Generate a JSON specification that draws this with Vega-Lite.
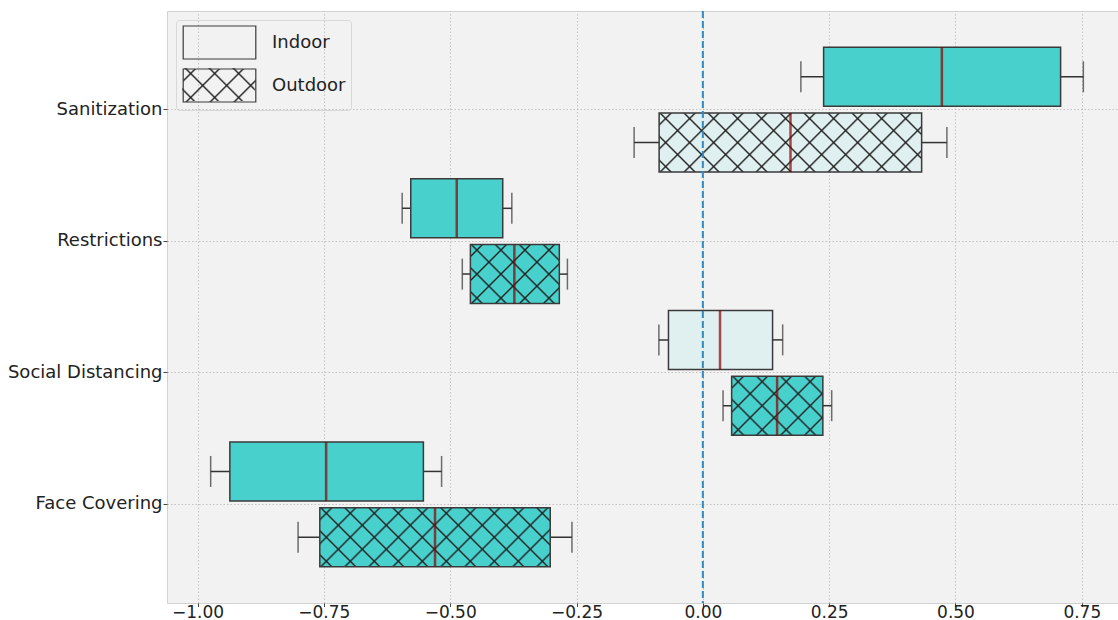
{
  "$schema": "https://vega.github.io/schema/vega-lite/v6.json",
  "width": 960,
  "height": 592,
  "padding": {"left": 5, "top": 10, "right": 0, "bottom": 0},
  "background": "white",
  "config": {
    "view": {"fill": "#f2f2f2", "stroke": "#d2d2d2", "strokeWidth": 1},
    "font": "DejaVu Sans",
    "axisX": {"grid": true, "gridColor": "#b5b5b5", "gridDash": [1.5, 2], "gridWidth": 0.8, "domain": false, "ticks": true, "tickSize": 3.5, "tickColor": "#444", "labelFontSize": 17, "labelColor": "#222", "labelPadding": -2, "labelFont": "DejaVu Sans"},
    "axisY": {"grid": true, "gridColor": "#b5b5b5", "gridDash": [1.5, 2], "gridWidth": 0.8, "domain": false, "ticks": true, "tickSize": 4, "tickColor": "#444", "labelFontSize": 18, "labelColor": "#222", "labelPadding": 1, "minExtent": 162, "maxExtent": 162, "labelFont": "DejaVu Sans"}
  },
  "data": {"values": [
    {"category": "Sanitization", "setting": "Indoor", "low": 0.194, "q1": 0.239, "median": 0.473, "q3": 0.708, "high": 0.753},
    {"category": "Sanitization", "setting": "Outdoor", "low": -0.136, "q1": -0.0865, "median": 0.1735, "q3": 0.433, "high": 0.483},
    {"category": "Restrictions", "setting": "Indoor", "low": -0.595, "q1": -0.578, "median": -0.487, "q3": -0.396, "high": -0.378},
    {"category": "Restrictions", "setting": "Outdoor", "low": -0.476, "q1": -0.46, "median": -0.373, "q3": -0.284, "high": -0.268},
    {"category": "Social Distancing", "setting": "Indoor", "low": -0.087, "q1": -0.068, "median": 0.034, "q3": 0.138, "high": 0.158},
    {"category": "Social Distancing", "setting": "Outdoor", "low": 0.04, "q1": 0.057, "median": 0.147, "q3": 0.2375, "high": 0.255},
    {"category": "Face Covering", "setting": "Indoor", "low": -0.974, "q1": -0.936, "median": -0.7455, "q3": -0.553, "high": -0.517},
    {"category": "Face Covering", "setting": "Outdoor", "low": -0.801, "q1": -0.758, "median": -0.53, "q3": -0.302, "high": -0.259}
  ]},
  "layer": [
    {
      "mark": {"type": "rule", "color": "#333", "strokeWidth": 1.5},
      "encoding": {
        "x": {"field": "low", "type": "quantitative", "title": null, "scale": {"domain": [-1.0604, 0.8394], "nice": false, "zero": false}, "axis": {"values": [-1, -0.75, -0.5, -0.25, 0, 0.25, 0.5, 0.75], "format": ".2f"}},
        "x2": {"field": "q1"},
        "y": {"field": "category", "type": "nominal", "title": null, "sort": ["Sanitization", "Restrictions", "Social Distancing", "Face Covering"], "scale": {"paddingInner": 0, "paddingOuter": 0.25}},
        "yOffset": {"field": "setting", "type": "nominal", "sort": ["Indoor", "Outdoor"], "scale": {"paddingInner": 0.103, "paddingOuter": 0.0513}},
        "strokeDash": {"field": "setting", "type": "nominal", "scale": {"range": [[1, 0], [1, 0]]}, "legend": {
          "title": null, "orient": "none", "legendX": 9, "legendY": 52, "values": ["Outdoor"],
          "symbolType": "M-2.2,-1H2.2V1H-2.2Z", "symbolSize": 1089, "symbolOffset": 21, "labelOffset": 35,
          "labelFontSize": 18, "labelFont": "DejaVu Sans", "labelColor": "#222", "labelOpacity": 0, "rowPadding": 4, "padding": 5,
          "symbolStrokeColor": "transparent", "symbolStrokeWidth": 0,
          "symbolFillColor": {"value": {"gradient": "linear", "x1": 0, "y1": 1, "x2": 3.8355, "y2": -0.7434, "stops": [{"offset":0.0298,"color":"rgba(34,34,34,0)"},{"offset":0.0357,"color":"#222"},{"offset":0.0417,"color":"rgba(34,34,34,0)"},{"offset":0.1012,"color":"rgba(34,34,34,0)"},{"offset":0.1071,"color":"#222"},{"offset":0.1131,"color":"rgba(34,34,34,0)"},{"offset":0.1726,"color":"rgba(34,34,34,0)"},{"offset":0.1786,"color":"#222"},{"offset":0.1845,"color":"rgba(34,34,34,0)"},{"offset":0.244,"color":"rgba(34,34,34,0)"},{"offset":0.25,"color":"#222"},{"offset":0.256,"color":"rgba(34,34,34,0)"},{"offset":0.3155,"color":"rgba(34,34,34,0)"},{"offset":0.3214,"color":"#222"},{"offset":0.3274,"color":"rgba(34,34,34,0)"}]}}
        }}
      }
    },
    {
      "mark": {"type": "rule", "color": "#333", "strokeWidth": 1.5},
      "encoding": {
        "x": {"field": "q3", "type": "quantitative"},
        "x2": {"field": "high"},
        "y": {"field": "category", "type": "nominal", "sort": ["Sanitization", "Restrictions", "Social Distancing", "Face Covering"]},
        "yOffset": {"field": "setting", "type": "nominal", "sort": ["Indoor", "Outdoor"]},
        "strokeWidth": {"field": "setting", "type": "ordinal", "scale": {"domain": {"unionWith": ["Indoor", "Outdoor"]}, "range": [1.5, 1.5]}, "legend": {
          "title": null, "orient": "none", "legendX": 9, "legendY": 52, "values": ["Outdoor"],
          "symbolType": "M-2.2,-1H2.2V1H-2.2Z", "symbolSize": 1089, "symbolOffset": 21, "labelOffset": 35,
          "labelFontSize": 18, "labelFont": "DejaVu Sans", "labelColor": "#222", "labelOpacity": 0, "rowPadding": 4, "padding": 5,
          "symbolStrokeColor": "transparent",
          "symbolFillColor": {"value": {"gradient": "linear", "x1": 0, "y1": 0, "x2": 3.8355, "y2": 1.7434, "stops": [{"offset":0.0298,"color":"rgba(34,34,34,0)"},{"offset":0.0357,"color":"#222"},{"offset":0.0417,"color":"rgba(34,34,34,0)"},{"offset":0.1012,"color":"rgba(34,34,34,0)"},{"offset":0.1071,"color":"#222"},{"offset":0.1131,"color":"rgba(34,34,34,0)"},{"offset":0.1726,"color":"rgba(34,34,34,0)"},{"offset":0.1786,"color":"#222"},{"offset":0.1845,"color":"rgba(34,34,34,0)"},{"offset":0.244,"color":"rgba(34,34,34,0)"},{"offset":0.25,"color":"#222"},{"offset":0.256,"color":"rgba(34,34,34,0)"},{"offset":0.3155,"color":"rgba(34,34,34,0)"},{"offset":0.3214,"color":"#222"},{"offset":0.3274,"color":"rgba(34,34,34,0)"}]}}
        }}
      }
    },
    {
      "mark": {"type": "tick", "orient": "vertical", "color": "#333", "size": 31, "thickness": 1.5},
      "encoding": {
        "x": {"field": "low", "type": "quantitative"},
        "y": {"field": "category", "type": "nominal", "sort": ["Sanitization", "Restrictions", "Social Distancing", "Face Covering"]},
        "yOffset": {"field": "setting", "type": "nominal", "sort": ["Indoor", "Outdoor"]}
      }
    },
    {
      "mark": {"type": "tick", "orient": "vertical", "color": "#333", "size": 31, "thickness": 1.5},
      "encoding": {
        "x": {"field": "high", "type": "quantitative"},
        "y": {"field": "category", "type": "nominal", "sort": ["Sanitization", "Restrictions", "Social Distancing", "Face Covering"]},
        "yOffset": {"field": "setting", "type": "nominal", "sort": ["Indoor", "Outdoor"]}
      }
    },
    {
      "mark": {"type": "bar"},
      "encoding": {
        "x": {"field": "q1", "type": "quantitative"},
        "x2": {"field": "q3"},
        "y": {"field": "category", "type": "nominal", "sort": ["Sanitization", "Restrictions", "Social Distancing", "Face Covering"]},
        "yOffset": {"field": "setting", "type": "nominal", "sort": ["Indoor", "Outdoor"]},
        "fill": {"condition": {"test": "datum.q1 < 0 && datum.q3 > 0", "value": "#e0efef"}, "value": "#48d1cc"}
      }
    },
    {
      "transform": [{"filter": "datum.setting === 'Outdoor'"}],
      "mark": {"type": "bar"},
      "encoding": {
        "x": {"field": "q1", "type": "quantitative"},
        "x2": {"field": "q3"},
        "y": {"field": "category", "type": "nominal", "sort": ["Sanitization", "Restrictions", "Social Distancing", "Face Covering"]},
        "yOffset": {"field": "setting", "type": "nominal", "sort": ["Indoor", "Outdoor"]},
        "fill": {"condition": [
          {"test": "datum.category === 'Sanitization'", "value": {"gradient": "linear", "x1": 0, "y1": 0, "x2": 1.2185, "y2": 0.2739, "stops": [{"offset":0.0298,"color":"rgba(34,34,34,0)"},{"offset":0.0357,"color":"#222"},{"offset":0.0417,"color":"rgba(34,34,34,0)"},{"offset":0.1012,"color":"rgba(34,34,34,0)"},{"offset":0.1071,"color":"#222"},{"offset":0.1131,"color":"rgba(34,34,34,0)"},{"offset":0.1726,"color":"rgba(34,34,34,0)"},{"offset":0.1786,"color":"#222"},{"offset":0.1845,"color":"rgba(34,34,34,0)"},{"offset":0.244,"color":"rgba(34,34,34,0)"},{"offset":0.25,"color":"#222"},{"offset":0.256,"color":"rgba(34,34,34,0)"},{"offset":0.3155,"color":"rgba(34,34,34,0)"},{"offset":0.3214,"color":"#222"},{"offset":0.3274,"color":"rgba(34,34,34,0)"},{"offset":0.3869,"color":"rgba(34,34,34,0)"},{"offset":0.3929,"color":"#222"},{"offset":0.3988,"color":"rgba(34,34,34,0)"},{"offset":0.4583,"color":"rgba(34,34,34,0)"},{"offset":0.4643,"color":"#222"},{"offset":0.4702,"color":"rgba(34,34,34,0)"},{"offset":0.5298,"color":"rgba(34,34,34,0)"},{"offset":0.5357,"color":"#222"},{"offset":0.5417,"color":"rgba(34,34,34,0)"},{"offset":0.6012,"color":"rgba(34,34,34,0)"},{"offset":0.6071,"color":"#222"},{"offset":0.6131,"color":"rgba(34,34,34,0)"},{"offset":0.6726,"color":"rgba(34,34,34,0)"},{"offset":0.6786,"color":"#222"},{"offset":0.6845,"color":"rgba(34,34,34,0)"},{"offset":0.744,"color":"rgba(34,34,34,0)"},{"offset":0.75,"color":"#222"},{"offset":0.756,"color":"rgba(34,34,34,0)"},{"offset":0.8155,"color":"rgba(34,34,34,0)"},{"offset":0.8214,"color":"#222"},{"offset":0.8274,"color":"rgba(34,34,34,0)"},{"offset":0.8869,"color":"rgba(34,34,34,0)"},{"offset":0.8929,"color":"#222"},{"offset":0.8988,"color":"rgba(34,34,34,0)"},{"offset":0.9583,"color":"rgba(34,34,34,0)"},{"offset":0.9643,"color":"#222"},{"offset":0.9702,"color":"rgba(34,34,34,0)"}]}},
          {"test": "datum.category === 'Restrictions'", "value": {"gradient": "linear", "x1": 0, "y1": 0, "x2": 2.6239, "y2": 1.7414, "stops": [{"offset":0.0298,"color":"rgba(34,34,34,0)"},{"offset":0.0357,"color":"#222"},{"offset":0.0417,"color":"rgba(34,34,34,0)"},{"offset":0.1012,"color":"rgba(34,34,34,0)"},{"offset":0.1071,"color":"#222"},{"offset":0.1131,"color":"rgba(34,34,34,0)"},{"offset":0.1726,"color":"rgba(34,34,34,0)"},{"offset":0.1786,"color":"#222"},{"offset":0.1845,"color":"rgba(34,34,34,0)"},{"offset":0.244,"color":"rgba(34,34,34,0)"},{"offset":0.25,"color":"#222"},{"offset":0.256,"color":"rgba(34,34,34,0)"},{"offset":0.3155,"color":"rgba(34,34,34,0)"},{"offset":0.3214,"color":"#222"},{"offset":0.3274,"color":"rgba(34,34,34,0)"},{"offset":0.3869,"color":"rgba(34,34,34,0)"},{"offset":0.3929,"color":"#222"},{"offset":0.3988,"color":"rgba(34,34,34,0)"},{"offset":0.4583,"color":"rgba(34,34,34,0)"},{"offset":0.4643,"color":"#222"},{"offset":0.4702,"color":"rgba(34,34,34,0)"}]}},
          {"test": "datum.category === 'Social Distancing'", "value": {"gradient": "linear", "x1": 0, "y1": 0, "x2": 2.5973, "y2": 1.6803, "stops": [{"offset":0.0298,"color":"rgba(34,34,34,0)"},{"offset":0.0357,"color":"#222"},{"offset":0.0417,"color":"rgba(34,34,34,0)"},{"offset":0.1012,"color":"rgba(34,34,34,0)"},{"offset":0.1071,"color":"#222"},{"offset":0.1131,"color":"rgba(34,34,34,0)"},{"offset":0.1726,"color":"rgba(34,34,34,0)"},{"offset":0.1786,"color":"#222"},{"offset":0.1845,"color":"rgba(34,34,34,0)"},{"offset":0.244,"color":"rgba(34,34,34,0)"},{"offset":0.25,"color":"#222"},{"offset":0.256,"color":"rgba(34,34,34,0)"},{"offset":0.3155,"color":"rgba(34,34,34,0)"},{"offset":0.3214,"color":"#222"},{"offset":0.3274,"color":"rgba(34,34,34,0)"},{"offset":0.3869,"color":"rgba(34,34,34,0)"},{"offset":0.3929,"color":"#222"},{"offset":0.3988,"color":"rgba(34,34,34,0)"},{"offset":0.4583,"color":"rgba(34,34,34,0)"},{"offset":0.4643,"color":"#222"},{"offset":0.4702,"color":"rgba(34,34,34,0)"}]}}
        ], "value": {"gradient": "linear", "x1": 0, "y1": 0, "x2": 1.3686, "y2": 0.3505, "stops": [{"offset":0.0298,"color":"rgba(34,34,34,0)"},{"offset":0.0357,"color":"#222"},{"offset":0.0417,"color":"rgba(34,34,34,0)"},{"offset":0.1012,"color":"rgba(34,34,34,0)"},{"offset":0.1071,"color":"#222"},{"offset":0.1131,"color":"rgba(34,34,34,0)"},{"offset":0.1726,"color":"rgba(34,34,34,0)"},{"offset":0.1786,"color":"#222"},{"offset":0.1845,"color":"rgba(34,34,34,0)"},{"offset":0.244,"color":"rgba(34,34,34,0)"},{"offset":0.25,"color":"#222"},{"offset":0.256,"color":"rgba(34,34,34,0)"},{"offset":0.3155,"color":"rgba(34,34,34,0)"},{"offset":0.3214,"color":"#222"},{"offset":0.3274,"color":"rgba(34,34,34,0)"},{"offset":0.3869,"color":"rgba(34,34,34,0)"},{"offset":0.3929,"color":"#222"},{"offset":0.3988,"color":"rgba(34,34,34,0)"},{"offset":0.4583,"color":"rgba(34,34,34,0)"},{"offset":0.4643,"color":"#222"},{"offset":0.4702,"color":"rgba(34,34,34,0)"},{"offset":0.5298,"color":"rgba(34,34,34,0)"},{"offset":0.5357,"color":"#222"},{"offset":0.5417,"color":"rgba(34,34,34,0)"},{"offset":0.6012,"color":"rgba(34,34,34,0)"},{"offset":0.6071,"color":"#222"},{"offset":0.6131,"color":"rgba(34,34,34,0)"},{"offset":0.6726,"color":"rgba(34,34,34,0)"},{"offset":0.6786,"color":"#222"},{"offset":0.6845,"color":"rgba(34,34,34,0)"},{"offset":0.744,"color":"rgba(34,34,34,0)"},{"offset":0.75,"color":"#222"},{"offset":0.756,"color":"rgba(34,34,34,0)"},{"offset":0.8155,"color":"rgba(34,34,34,0)"},{"offset":0.8214,"color":"#222"},{"offset":0.8274,"color":"rgba(34,34,34,0)"},{"offset":0.8869,"color":"rgba(34,34,34,0)"},{"offset":0.8929,"color":"#222"},{"offset":0.8988,"color":"rgba(34,34,34,0)"}]}}
      }
    },
    {
      "transform": [{"filter": "datum.setting === 'Outdoor'"}],
      "mark": {"type": "bar"},
      "encoding": {
        "x": {"field": "q1", "type": "quantitative"},
        "x2": {"field": "q3"},
        "y": {"field": "category", "type": "nominal", "sort": ["Sanitization", "Restrictions", "Social Distancing", "Face Covering"]},
        "yOffset": {"field": "setting", "type": "nominal", "sort": ["Indoor", "Outdoor"]},
        "fill": {"condition": [
          {"test": "datum.category === 'Sanitization'", "value": {"gradient": "linear", "x1": 0, "y1": 1, "x2": 1.2185, "y2": 0.7261, "stops": [{"offset":0.0298,"color":"rgba(34,34,34,0)"},{"offset":0.0357,"color":"#222"},{"offset":0.0417,"color":"rgba(34,34,34,0)"},{"offset":0.1012,"color":"rgba(34,34,34,0)"},{"offset":0.1071,"color":"#222"},{"offset":0.1131,"color":"rgba(34,34,34,0)"},{"offset":0.1726,"color":"rgba(34,34,34,0)"},{"offset":0.1786,"color":"#222"},{"offset":0.1845,"color":"rgba(34,34,34,0)"},{"offset":0.244,"color":"rgba(34,34,34,0)"},{"offset":0.25,"color":"#222"},{"offset":0.256,"color":"rgba(34,34,34,0)"},{"offset":0.3155,"color":"rgba(34,34,34,0)"},{"offset":0.3214,"color":"#222"},{"offset":0.3274,"color":"rgba(34,34,34,0)"},{"offset":0.3869,"color":"rgba(34,34,34,0)"},{"offset":0.3929,"color":"#222"},{"offset":0.3988,"color":"rgba(34,34,34,0)"},{"offset":0.4583,"color":"rgba(34,34,34,0)"},{"offset":0.4643,"color":"#222"},{"offset":0.4702,"color":"rgba(34,34,34,0)"},{"offset":0.5298,"color":"rgba(34,34,34,0)"},{"offset":0.5357,"color":"#222"},{"offset":0.5417,"color":"rgba(34,34,34,0)"},{"offset":0.6012,"color":"rgba(34,34,34,0)"},{"offset":0.6071,"color":"#222"},{"offset":0.6131,"color":"rgba(34,34,34,0)"},{"offset":0.6726,"color":"rgba(34,34,34,0)"},{"offset":0.6786,"color":"#222"},{"offset":0.6845,"color":"rgba(34,34,34,0)"},{"offset":0.744,"color":"rgba(34,34,34,0)"},{"offset":0.75,"color":"#222"},{"offset":0.756,"color":"rgba(34,34,34,0)"},{"offset":0.8155,"color":"rgba(34,34,34,0)"},{"offset":0.8214,"color":"#222"},{"offset":0.8274,"color":"rgba(34,34,34,0)"},{"offset":0.8869,"color":"rgba(34,34,34,0)"},{"offset":0.8929,"color":"#222"},{"offset":0.8988,"color":"rgba(34,34,34,0)"},{"offset":0.9583,"color":"rgba(34,34,34,0)"},{"offset":0.9643,"color":"#222"},{"offset":0.9702,"color":"rgba(34,34,34,0)"}]}},
          {"test": "datum.category === 'Restrictions'", "value": {"gradient": "linear", "x1": 0, "y1": 1, "x2": 2.6239, "y2": -0.7414, "stops": [{"offset":0.0298,"color":"rgba(34,34,34,0)"},{"offset":0.0357,"color":"#222"},{"offset":0.0417,"color":"rgba(34,34,34,0)"},{"offset":0.1012,"color":"rgba(34,34,34,0)"},{"offset":0.1071,"color":"#222"},{"offset":0.1131,"color":"rgba(34,34,34,0)"},{"offset":0.1726,"color":"rgba(34,34,34,0)"},{"offset":0.1786,"color":"#222"},{"offset":0.1845,"color":"rgba(34,34,34,0)"},{"offset":0.244,"color":"rgba(34,34,34,0)"},{"offset":0.25,"color":"#222"},{"offset":0.256,"color":"rgba(34,34,34,0)"},{"offset":0.3155,"color":"rgba(34,34,34,0)"},{"offset":0.3214,"color":"#222"},{"offset":0.3274,"color":"rgba(34,34,34,0)"},{"offset":0.3869,"color":"rgba(34,34,34,0)"},{"offset":0.3929,"color":"#222"},{"offset":0.3988,"color":"rgba(34,34,34,0)"},{"offset":0.4583,"color":"rgba(34,34,34,0)"},{"offset":0.4643,"color":"#222"},{"offset":0.4702,"color":"rgba(34,34,34,0)"}]}},
          {"test": "datum.category === 'Social Distancing'", "value": {"gradient": "linear", "x1": 0, "y1": 1, "x2": 2.5973, "y2": -0.6803, "stops": [{"offset":0.0298,"color":"rgba(34,34,34,0)"},{"offset":0.0357,"color":"#222"},{"offset":0.0417,"color":"rgba(34,34,34,0)"},{"offset":0.1012,"color":"rgba(34,34,34,0)"},{"offset":0.1071,"color":"#222"},{"offset":0.1131,"color":"rgba(34,34,34,0)"},{"offset":0.1726,"color":"rgba(34,34,34,0)"},{"offset":0.1786,"color":"#222"},{"offset":0.1845,"color":"rgba(34,34,34,0)"},{"offset":0.244,"color":"rgba(34,34,34,0)"},{"offset":0.25,"color":"#222"},{"offset":0.256,"color":"rgba(34,34,34,0)"},{"offset":0.3155,"color":"rgba(34,34,34,0)"},{"offset":0.3214,"color":"#222"},{"offset":0.3274,"color":"rgba(34,34,34,0)"},{"offset":0.3869,"color":"rgba(34,34,34,0)"},{"offset":0.3929,"color":"#222"},{"offset":0.3988,"color":"rgba(34,34,34,0)"},{"offset":0.4583,"color":"rgba(34,34,34,0)"},{"offset":0.4643,"color":"#222"},{"offset":0.4702,"color":"rgba(34,34,34,0)"}]}}
        ], "value": {"gradient": "linear", "x1": 0, "y1": 1, "x2": 1.3686, "y2": 0.6495, "stops": [{"offset":0.0298,"color":"rgba(34,34,34,0)"},{"offset":0.0357,"color":"#222"},{"offset":0.0417,"color":"rgba(34,34,34,0)"},{"offset":0.1012,"color":"rgba(34,34,34,0)"},{"offset":0.1071,"color":"#222"},{"offset":0.1131,"color":"rgba(34,34,34,0)"},{"offset":0.1726,"color":"rgba(34,34,34,0)"},{"offset":0.1786,"color":"#222"},{"offset":0.1845,"color":"rgba(34,34,34,0)"},{"offset":0.244,"color":"rgba(34,34,34,0)"},{"offset":0.25,"color":"#222"},{"offset":0.256,"color":"rgba(34,34,34,0)"},{"offset":0.3155,"color":"rgba(34,34,34,0)"},{"offset":0.3214,"color":"#222"},{"offset":0.3274,"color":"rgba(34,34,34,0)"},{"offset":0.3869,"color":"rgba(34,34,34,0)"},{"offset":0.3929,"color":"#222"},{"offset":0.3988,"color":"rgba(34,34,34,0)"},{"offset":0.4583,"color":"rgba(34,34,34,0)"},{"offset":0.4643,"color":"#222"},{"offset":0.4702,"color":"rgba(34,34,34,0)"},{"offset":0.5298,"color":"rgba(34,34,34,0)"},{"offset":0.5357,"color":"#222"},{"offset":0.5417,"color":"rgba(34,34,34,0)"},{"offset":0.6012,"color":"rgba(34,34,34,0)"},{"offset":0.6071,"color":"#222"},{"offset":0.6131,"color":"rgba(34,34,34,0)"},{"offset":0.6726,"color":"rgba(34,34,34,0)"},{"offset":0.6786,"color":"#222"},{"offset":0.6845,"color":"rgba(34,34,34,0)"},{"offset":0.744,"color":"rgba(34,34,34,0)"},{"offset":0.75,"color":"#222"},{"offset":0.756,"color":"rgba(34,34,34,0)"},{"offset":0.8155,"color":"rgba(34,34,34,0)"},{"offset":0.8214,"color":"#222"},{"offset":0.8274,"color":"rgba(34,34,34,0)"},{"offset":0.8869,"color":"rgba(34,34,34,0)"},{"offset":0.8929,"color":"#222"},{"offset":0.8988,"color":"rgba(34,34,34,0)"}]}}
      }
    },
    {
      "mark": {"type": "bar", "filled": false, "strokeWidth": 1.5},
      "encoding": {
        "x": {"field": "q1", "type": "quantitative"},
        "x2": {"field": "q3"},
        "y": {"field": "category", "type": "nominal", "sort": ["Sanitization", "Restrictions", "Social Distancing", "Face Covering"]},
        "yOffset": {"field": "setting", "type": "nominal", "sort": ["Indoor", "Outdoor"]},
        "stroke": {"field": "setting", "type": "nominal", "scale": {"domain": ["Indoor", "Outdoor"], "range": ["#3a3a3a", "#3a3a3a"]}, "legend": {
          "title": null, "orient": "none", "legendX": 9, "legendY": 9,
          "symbolType": "M-2.2,-1H2.2V1H-2.2Z", "symbolSize": 1089, "symbolOffset": 21, "labelOffset": 35,
          "labelFontSize": 18, "labelFont": "DejaVu Sans", "labelColor": "#222", "rowPadding": 4, "padding": 5,
          "strokeColor": "#d8d8d8", "cornerRadius": 3,
          "symbolStrokeWidth": 1.2, "symbolStrokeColor": "#555"
        }}
      }
    },
    {
      "mark": {"type": "tick", "orient": "vertical", "color": "#8b0000", "size": 59, "thickness": 2.5},
      "encoding": {
        "x": {"field": "median", "type": "quantitative"},
        "y": {"field": "category", "type": "nominal", "sort": ["Sanitization", "Restrictions", "Social Distancing", "Face Covering"]},
        "yOffset": {"field": "setting", "type": "nominal", "sort": ["Indoor", "Outdoor"]}
      }
    },
    {
      "data": {"values": [{"ref": 0}]},
      "mark": {"type": "rule", "color": "#348abd", "strokeWidth": 2, "strokeDash": [7, 3]},
      "encoding": {
        "x": {"field": "ref", "type": "quantitative"}
      }
    }
  ]
}
